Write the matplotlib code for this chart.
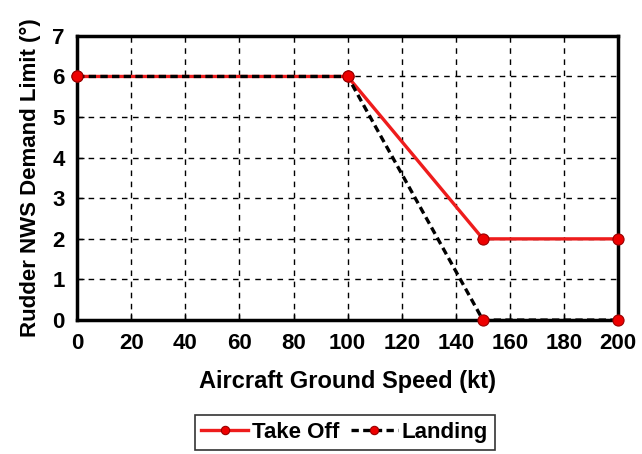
import matplotlib
matplotlib.use("Agg")
import matplotlib.pyplot as plt

plt.rcParams['font.family'] = ['Liberation Sans', 'DejaVu Sans']
plt.rcParams['font.weight'] = 'bold'

# data
speed_takeoff = [0, 100, 150, 200]
limit_takeoff = [6, 6, 2, 2]
speed_landing = [0, 100, 150, 200]
limit_landing = [6, 6, 0, 0]

fig = plt.figure(figsize=(6.42, 4.54), dpi=100)
ax = fig.add_axes([0.12, 0.295, 0.843, 0.626])

ax.plot(speed_takeoff, limit_takeoff, color='#ee1c1c', lw=2.4, marker='o',
        markersize=8, markerfacecolor='#ee0000', markeredgecolor='#990000',
        markeredgewidth=0.8, clip_on=False, zorder=3, label='Take Off')
ax.plot(speed_landing, limit_landing, color='black', lw=2.4, ls=(0, (2.2, 1.3)),
        marker='o', markersize=8, markerfacecolor='#ee0000',
        markeredgecolor='#990000', markeredgewidth=0.8, clip_on=False,
        zorder=4, label='Landing')

ax.set_xlim(0, 200)
ax.set_ylim(0, 7)
ax.set_xticks(range(0, 201, 20))
ax.set_yticks(range(0, 8))
ax.grid(True, color='black', ls=(0, (4, 4)), lw=1)
for s in ax.spines.values():
    s.set_linewidth(2.5)
ax.tick_params(direction='in', length=5, width=1, labelsize=16)
ax.tick_params(axis='x', pad=9)
ax.tick_params(axis='y', pad=9)
for lbl in ax.get_xticklabels() + ax.get_yticklabels():
    lbl.set_fontweight('bold')

ax.set_xlabel('Aircraft Ground Speed (kt)', fontsize=17, fontweight='bold', labelpad=12)
ax.set_ylabel('Rudder NWS Demand Limit (°)', fontsize=16, fontweight='bold', labelpad=8)

leg = fig.legend(loc='center', bbox_to_anchor=(0.537, 0.047), ncol=2,
                 frameon=True, fancybox=False, edgecolor='black',
                 prop={'size': 16, 'weight': 'bold'}, handlelength=2.1,
                 columnspacing=0.5, handletextpad=0.2, borderpad=0.3,
                 markerscale=0.75)
leg.get_frame().set_linewidth(1.2)

fig.savefig('out.png', dpi=100)
